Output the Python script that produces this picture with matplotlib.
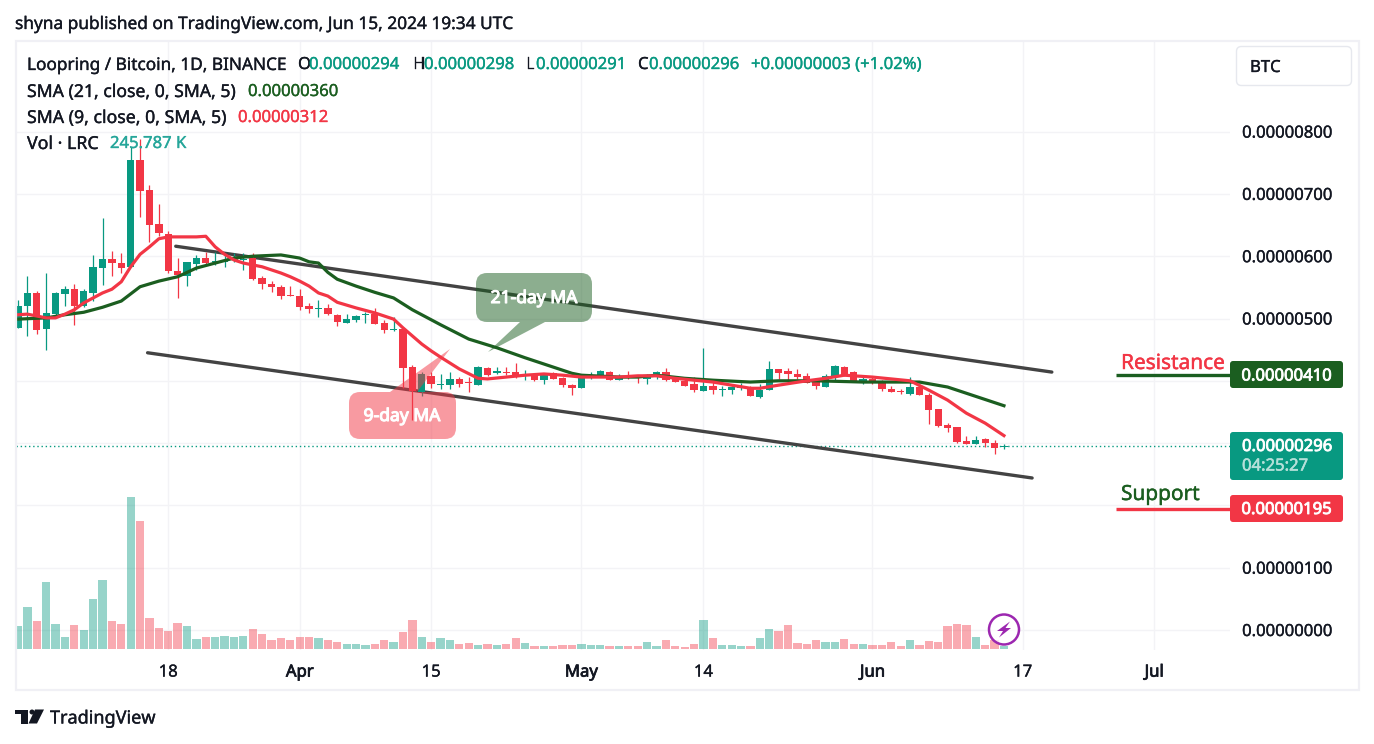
import matplotlib
matplotlib.use("Agg")
import matplotlib.pyplot as plt
import matplotlib.patheffects as pe
from matplotlib.patches import FancyBboxPatch, Polygon, Circle, Rectangle

# ---- data (price in 1e-8 BTC, volume in thousands, x in daily bars from Mar 2 2024) ----
opens = [485,520,541,483,507,539,547,520,541,581,595,589,583,754,706,652,636,576,568,587,597,591,591,594,594,597,
         565,555,551,538,536,520,516,517,506,493,498,506,507,493,481,483,422,382,408,394,393,403,398,393,420,412,
         414,414,409,411,401,412,404,393,388,408,409,414,401,408,406,403,409,414,403,400,395,384,392,386,385,388,
         390,374,385,419,416,411,408,398,390,406,422,414,398,403,400,387,384,379,390,377,355,329,326,303,299,307,300,294]
highs = [530,568,544,573,542,552,555,547,602,661,608,605,775,788,714,684,640,597,591,602,607,607,605,605,605,605,
         568,560,554,552,547,525,530,523,507,507,506,510,517,498,502,486,425,414,414,411,414,406,406,424,422,422,
         422,429,417,412,412,414,406,395,411,414,417,416,411,416,409,411,416,420,408,403,406,453,401,392,392,396,
         392,395,432,419,420,419,412,401,411,425,424,416,406,406,401,392,387,406,396,380,355,332,326,311,311,308,305,298]
lows = [485,472,475,449,506,520,490,518,528,554,568,573,583,663,623,632,573,533,552,578,586,586,583,591,578,562,
        547,542,531,536,514,509,502,506,488,493,494,493,491,477,480,388,337,376,388,387,387,390,382,393,408,411,
        409,404,401,400,395,403,390,377,388,403,408,401,401,403,396,395,403,400,398,392,382,384,379,376,379,385,
        376,372,385,403,395,403,396,387,390,401,408,400,395,395,384,382,379,377,377,331,326,318,300,299,299,294,282,291]
closes = [520,541,481,509,541,547,520,544,583,595,589,581,754,705,650,637,576,570,591,597,589,592,594,595,595,563,
          555,551,536,536,518,515,517,507,494,499,504,507,491,481,483,421,384,411,395,395,403,395,396,422,409,416,
          412,406,411,401,409,403,393,388,411,409,416,401,408,404,404,409,414,401,398,392,385,392,385,387,390,388,
          376,385,419,412,411,406,396,392,408,424,409,400,403,398,387,382,382,390,377,353,327,324,302,299,305,300,292,296]
volumes_k = [1886,3444,2296,5494,2050,984,1968,1558,4100,5658,2296,2050,12464,10496,2542,1722,1476,2132,1886,820,
             984,984,1066,984,1066,1640,1230,738,902,738,984,984,902,738,574,410,410,328,410,738,574,1394,2378,984,
             574,902,738,410,492,328,410,328,410,902,492,246,246,246,328,328,410,328,328,246,246,246,246,574,246,
             738,246,164,410,2378,902,328,328,246,246,902,1640,1476,1968,492,410,738,574,574,820,410,410,328,328,
             574,246,738,328,656,574,1886,2050,1968,984,328,738,246]
sma9_idx = [0,1,2,3,4,5,6,7,8,9,10,11,12,13,14,15,16,17,18,19,20,21,22,23,24,25,26,27,28,29,30,31,32,33,34,36,38,
            40,41,43,44,45,47,49,50,52,54,56,58,60,62,64,66,68,70,72,74,76,78,79,81,84,86,88,91,95,97,99,101,103,105]
sma9 = [506,507,504,501,501,507,514,525,533,541,547,559,583,603,615,628,631,631,631,631,632,615,603,594,589,586,
        583,578,573,567,560,552,541,536,526,517,509,499,485,459,448,438,419,404,403,406,409,411,409,406,406,406,
        408,408,404,401,398,393,388,388,393,400,404,409,406,400,385,369,348,332,312]
sma21_idx = [0,3,5,7,9,11,13,15,17,19,21,23,25,28,30,31,32,33,34,36,38,40,42,45,48,51,54,57,59,60,64,66,68,71,74,78,
             81,85,90,96,99,101,105]
sma21 = [499,501,506,510,518,528,551,560,567,581,589,597,600,602,597,591,589,574,563,552,542,533,514,490,467,453,437,
         422,412,409,406,406,409,404,401,398,400,400,398,398,390,380,360]
channel_upper_idx = [16.8, 110.1]
channel_upper = [616, 414]
channel_lower_idx = [13.8, 108.0]
channel_lower = [445, 244]
resistance_level = 410
support_level = 195
last_close = 296
price_ticks = [0,100,200,300,400,500,600,700,800]
price_labels = ["0.00000000","0.00000100","","","","0.00000500","0.00000600","0.00000700","0.00000800"]
date_ticks = [16,30,44,60,73,91,107,121]
date_labels = ["18","Apr","15","May","14","Jun","17","Jul"]
date_bold = ["Apr","May","Jun","Jul"]

FONT = "Noto Sans"
UP, DOWN, DARKG, INK = "#089981", "#f23645", "#1b5e20", "#131722"
GRID = "#f3f3f6"
plt.rcParams["font.family"] = FONT

W, H = 1374, 744
fig = plt.figure(figsize=(W/100, H/100), dpi=100, facecolor="white")

L, R, T, B = 16, 1230, 41, 650
PXD = 9.39
PPU = 0.623
ax = fig.add_axes([L/W, 1-B/H, (R-L)/W, (B-T)/H])
ax.set_xlim((L-18)/PXD, (R-18)/PXD)
ax.set_ylim((630-B)/PPU, (630-T)/PPU)
for s in ax.spines.values():
    s.set_visible(False)

vax = ax.twinx()
vax.set_ylim(-82, 608*82)
vax.axis("off")

n = len(opens)
xs = list(range(n))
cols = [UP if c >= o else DOWN for o, c in zip(opens, closes)]
vax.bar(xs, volumes_k, width=0.88, color=cols, alpha=0.42, linewidth=0)

ax.set_xticks(date_ticks)
ax.set_xticklabels(date_labels)
ax.set_yticks(price_ticks)
ax.set_yticklabels(price_labels)
ax.yaxis.tick_right()
ax.grid(True, color=GRID, lw=1.0, zorder=0)
ax.set_axisbelow(True)
ax.tick_params(axis="both", length=0, labelsize=12, colors=INK)
ax.tick_params(axis="y", pad=8.7)
ax.tick_params(axis="x", pad=10.5)
thin = [pe.withStroke(linewidth=0.25, foreground=INK)]
for lab in ax.get_yticklabels():
    lab.set_path_effects(thin)
for lab in ax.get_xticklabels():
    lab.set_path_effects([pe.withStroke(linewidth=0.55, foreground=INK)] if lab.get_text() in date_bold else thin)

ax.plot(channel_upper_idx, channel_upper, color="#434343", lw=2.4, solid_capstyle="round", zorder=2.2)
ax.plot(channel_lower_idx, channel_lower, color="#434343", lw=2.4, solid_capstyle="round", zorder=2.2)

ax.axhline(last_close, color=UP, lw=1.0, ls=(0, (1, 2)), zorder=2)
ax.vlines(xs, lows, highs, colors=cols, lw=0.9, zorder=3)
bottoms = [min(o, c) for o, c in zip(opens, closes)]
heights = [max(abs(c-o), 1.5) for o, c in zip(opens, closes)]
ax.bar(xs, heights, bottom=bottoms, width=0.78, color=cols, linewidth=0, zorder=3.1)

ax.plot(sma21_idx, sma21, color=DARKG, lw=2.3, zorder=4)
ax.plot(sma9_idx, sma9, color=DOWN, lw=2.3, zorder=4.1)
ax.plot([116.9, ax.get_xlim()[1]], [resistance_level]*2, color=DARKG, lw=2.4, solid_capstyle="butt", zorder=4)
ax.plot([116.9, ax.get_xlim()[1]], [support_level]*2, color=DOWN, lw=2.4, solid_capstyle="butt", zorder=4)

# overlay in pixel coordinates for chrome
ov = fig.add_axes([0, 0, 1, 1], zorder=10)
ov.set_xlim(0, W)
ov.set_ylim(H, 0)
ov.axis("off")

ov.add_patch(Rectangle((16, 41), 1343, 649, fill=False, ec="#f0f0f5", lw=1.6))

def txt(x, y, s, color=INK, size=12, ha="left", stroke=0.25, **kw):
    t = ov.text(x, y+2, s, color=color, fontsize=size, ha=ha, va="center", **kw)
    if stroke:
        t.set_path_effects([pe.withStroke(linewidth=stroke, foreground=color)])
    return t

txt(15, 22, "shyna published on TradingView.com, Jun 15, 2024 19:34 UTC", size=12.45)
txt(27, 63, "Loopring / Bitcoin, 1D, BINANCE", size=12.4)
for x, s in [(298, "O"), (413, "H"), (526, "L"), (638, "C")]:
    txt(x, 63, s)
for x, s in [(309, "0.00000294"), (424, "0.00000298"), (536, "0.00000291"), (649, "0.00000296"),
             (751, "+0.00000003 (+1.02%)")]:
    txt(x, 63, s, color=UP)
txt(27, 90, "SMA (21, close, 0, SMA, 5)", size=12.7)
txt(248, 90, "0.00000360", color=DARKG)
txt(27, 116, "SMA (9, close, 0, SMA, 5)", size=12.75)
txt(238, 116, "0.00000312", color=DOWN)
txt(27, 142, "Vol · LRC", size=12.8)
txt(110, 142, "245.787 K", color="#26a69a")

ov.add_patch(FancyBboxPatch((1240, 50), 108, 32, boxstyle="round,pad=3.5,rounding_size=5",
                            fc="white", ec="#e6e8ee", lw=1.0))
txt(1250, 66, "BTC")

def box(x0, y0, x1, y1, color, rad=3, alpha=1.0):
    ov.add_patch(FancyBboxPatch((x0+rad, y0+rad), x1-x0-2*rad, y1-y0-2*rad,
                                boxstyle=f"round,pad={rad},rounding_size={rad}",
                                fc=color, ec="none", alpha=alpha))

# price labels
box(1230, 361, 1343, 388, DARKG)
txt(1287, 374.5, "0.00000410", color="white", ha="center", stroke=0.6)
box(1230, 432, 1343, 480, UP)
txt(1242, 445, "0.00000296", color="white", stroke=0.6)
txt(1242, 464.5, "04:25:27", color="#b5e0d9", stroke=0.4)
box(1230, 495, 1343, 522, DOWN)
txt(1287, 508, "0.00000195", color="white", ha="center", stroke=0.6)

txt(1121, 361.5, "Resistance", color=DOWN, size=15, stroke=0.3)
txt(1121, 492.5, "Support", color=DARKG, size=15, stroke=0.3)

# callouts
box(476, 273, 592, 322, "#1b5e20", rad=11, alpha=0.5)
ov.add_patch(Polygon([(520, 322), (545, 322), (488, 352)], fc="#1b5e20", ec="none", alpha=0.5))
txt(534, 296, "21-day MA", color="white", ha="center", stroke=0.8, size=12.6)
box(349, 392, 456, 439, DOWN, rad=11, alpha=0.5)
ov.add_patch(Polygon([(390, 392), (417, 392), (450, 349)], fc=DOWN, ec="none", alpha=0.5))
txt(402, 414, "9-day MA", color="white", ha="center", stroke=0.8, size=12.6)

# lightning badge
ov.add_patch(Circle((1004, 629.5), 15, fc=(1, 1, 1, 0.75), ec="#9c27b0", lw=1.8))
ov.add_patch(Polygon([(1010, 621.5), (997, 631), (1003, 631), (999, 637.5), (1011, 628), (1005.5, 628)],
                     fc="#9c27b0", ec="none"))

# footer logo
ov.add_patch(Polygon([(15, 709.5), (28, 709.5), (28, 723.5), (21, 723.5), (21, 714), (15, 714)], fc=INK, ec="none"))
ov.add_patch(Circle((32, 712), 2.5, fc=INK, ec="none"))
ov.add_patch(Polygon([(35, 709.5), (44, 709.5), (37, 723.5), (28.5, 723.5)], fc=INK, ec="none"))
txt(50, 716.5, "TradingView", size=13)

fig.savefig("out.png", dpi=100, facecolor="white")
